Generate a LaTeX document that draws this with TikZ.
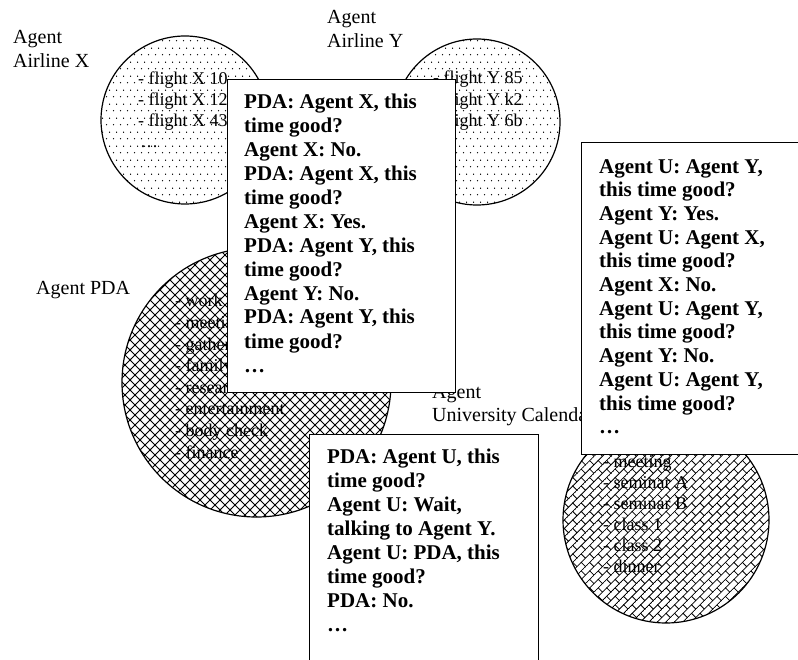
\documentclass[tikz,border=0pt]{standalone}
\usepackage{fontspec}
\setmainfont{Liberation Serif}
\usetikzlibrary{patterns.meta}

% staggered dot screen for the airline agents
\tikzdeclarepattern{
  name=sparsedots, type=uncolored,
  bounding box={(0pt,0pt) and (7pt,14pt)},
  tile size={(7pt,14pt)},
  code={
    \pgfpathcircle{\pgfqpoint{1.75pt}{3.5pt}}{0.8pt}
    \pgfpathcircle{\pgfqpoint{5.25pt}{10.5pt}}{0.8pt}
    \pgfusepath{fill}
  }
}
% diamond cross-hatching for the PDA agent
\tikzdeclarepattern{
  name=diamondhatch, type=uncolored,
  bounding box={(-1pt,-1pt) and (11pt,11pt)},
  tile size={(10pt,10pt)},
  code={
    \pgfsetlinewidth{0.8pt}
    \pgfpathmoveto{\pgfqpoint{-1pt}{-1pt}}\pgfpathlineto{\pgfqpoint{11pt}{11pt}}
    \pgfpathmoveto{\pgfqpoint{-1pt}{11pt}}\pgfpathlineto{\pgfqpoint{11pt}{-1pt}}
    \pgfusepath{stroke}
  }
}
% diagonal brick work for the university calendar agent
\tikzdeclarepattern{
  name=diagbrick, type=uncolored,
  bounding box={(-0.5pt,-0.5pt) and (12.5pt,12.5pt)},
  tile size={(12pt,12pt)},
  tile transformation={rotate=45},
  code={
    \pgfsetlinewidth{0.8pt}
    \pgfpathmoveto{\pgfqpoint{-0.5pt}{0pt}}\pgfpathlineto{\pgfqpoint{12.5pt}{0pt}}
    \pgfpathmoveto{\pgfqpoint{-0.5pt}{6pt}}\pgfpathlineto{\pgfqpoint{12.5pt}{6pt}}
    \pgfpathmoveto{\pgfqpoint{0pt}{0pt}}\pgfpathlineto{\pgfqpoint{0pt}{6pt}}
    \pgfpathmoveto{\pgfqpoint{6pt}{6pt}}\pgfpathlineto{\pgfqpoint{6pt}{12pt}}
    \pgfusepath{stroke}
  }
}

\begin{document}
% multi-line text nodes are placed by the baseline of their last line
\begin{tikzpicture}[x=1pt,y=-1pt,
  disc/.style={circle, draw, line width=1.2pt, inner sep=0pt},
  card/.style={draw, fill=white, line width=1.3pt, inner sep=0pt, anchor=north west},
  agentname/.style={anchor=base west, inner sep=0pt, align=left, font=\fontsize{20}{23.5}\selectfont},
  items/.style={anchor=base west, inner sep=0pt, align=left, font=\fontsize{18}{21.3}\selectfont},
  talk/.style={anchor=base west, inner sep=0pt, align=left, font=\fontsize{21}{24}\selectfont\bfseries},
]
\clip (0,0) rectangle (798,660);

% agents
\node[disc, pattern=sparsedots, minimum size=168pt] (airx) at (185,120) {};
\node[disc, pattern=sparsedots, minimum size=166pt] (airy) at (477,122) {};
\node[disc, pattern=diamondhatch, minimum size=269pt] (pda) at (256.5,382.5) {};
\node[disc, pattern=diagbrick, minimum size=206pt] (uni) at (666,520) {};

% what each agent knows
\node[items] (airxlist) at (138,148) {- flight X 10\\- flight X 12\\- flight X 43\\\hspace{2pt}…};
\node[items] (airylist) at (433,126.6) {- flight Y 85\\- flight Y k2\\- flight Y 6b};
\node[items, font=\fontsize{18}{21.6}\selectfont] (pdalist) at (175,458)
  {- work\\- meeting\\- gathering\\- family\\- research\\- entertainment\\- body check\\- finance};
\node[items, font=\fontsize{18}{21}\selectfont] (unilist) at (603,572)
  {- meeting\\- seminar A\\- seminar B\\- class 1\\- class 2\\- dinner};

% agent names
\node[agentname] (namex) at (13,67.5) {Agent\\Airline X};
\node[agentname] (namey) at (327,47.5) {Agent\\Airline Y};
\node[agentname] (namepda) at (36,295) {Agent PDA};
\node[agentname] (nameuni) at (432,421.5) {Agent\\University Calendar};

% dialogue cards
\node[card, minimum width=228pt, minimum height=313pt] (card1) at (227,79) {};
\node[card, minimum width=229pt, minimum height=312pt] (card2) at (581,142) {};
\node[card, minimum width=229pt, minimum height=240pt] (card3) at (309,434) {};

\node[talk] (chat1) at (244,372) {PDA: Agent X, this\\time good?\\Agent X: No.\\PDA: Agent X, this\\time good?\\Agent X: Yes.\\PDA: Agent Y, this\\time good?\\Agent Y: No.\\PDA: Agent Y, this\\time good?\\…};
\node[talk, font=\fontsize{21}{23.7}\selectfont\bfseries] (chat2) at (599,433.7) {Agent U: Agent Y,\\this time good?\\Agent Y: Yes.\\Agent U: Agent X,\\this time good?\\Agent X: No.\\Agent U: Agent Y,\\this time good?\\Agent Y: No.\\Agent U: Agent Y,\\this time good?\\…};
\node[talk] (chat3) at (327,631) {PDA: Agent U, this\\time good?\\Agent U: Wait,\\talking to Agent Y.\\Agent U: PDA, this\\time good?\\PDA: No.\\…};
\end{tikzpicture}
\end{document}
